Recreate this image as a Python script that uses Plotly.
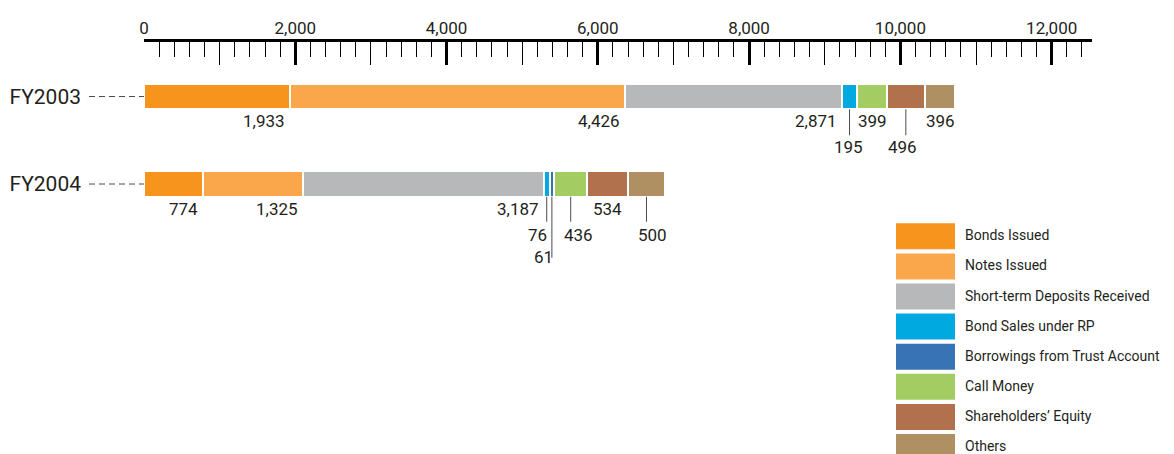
import plotly.graph_objects as go

# ---------------- data ----------------
years = ["FY2003", "FY2004"]
series_names = [
    "Bonds Issued",
    "Notes Issued",
    "Short-term Deposits Received",
    "Bond Sales under RP",
    "Borrowings from Trust Account",
    "Call Money",
    "Shareholders’ Equity",
    "Others",
]
bonds_issued = [1933, 774]
notes_issued = [4426, 1325]
short_term_deposits = [2871, 3187]
bond_sales_rp = [195, 76]
borrowings_trust = [None, 61]
call_money = [399, 436]
shareholders_equity = [496, 534]
others = [396, 500]
x_tick_values = [0, 2000, 4000, 6000, 8000, 10000, 12000]

series_values = [bonds_issued, notes_issued, short_term_deposits, bond_sales_rp,
                 borrowings_trust, call_money, shareholders_equity, others]

# ---------------- styles ----------------
colors = ["#F7941D", "#FAA74B", "#B7B8BA", "#00A9E0", "#3874B5",
          "#A3CD62", "#B0714C", "#AF9062"]
FONT = "Roboto, Liberation Sans, sans-serif"
TXT = "#231F20"
LEAD = "#4D4D4F"
W, H = 1174, 454
ML, MR, MT, MB = 144, 82, 42, 0
PW, PH = W - ML - MR, H - MT - MB
PX_PER_CAT = 87.5
BAR_PX = 25.5
HALF = BAR_PX / 2
y_top = -54.5 / PX_PER_CAT
y_bot = y_top + PH / PX_PER_CAT

# label placement per (year index, series index): style only
# ('right' | 'left' | 'center') or ('leader', leader_len, label_offset, xanchor, xshift)
placement = {
    (0, 0): "right", (0, 1): "right", (0, 2): "right",
    (0, 3): ("leader", 26, 38, "center", -1),
    (0, 5): "left",
    (0, 6): ("leader", 26, 38, "center", -3),
    (0, 7): "left",
    (1, 0): "right", (1, 1): "right", (1, 2): "right",
    (1, 3): ("leader", 25, 38, "center", -9),
    (1, 4): ("leader", 61, 60, "center", -8),
    (1, 5): ("leader", 25, 38, "center", 8),
    (1, 6): "center",
    (1, 7): ("leader", 25, 38, "center", 6),
}

fig = go.Figure()
for name, vals, col in zip(series_names, series_values, colors):
    fig.add_trace(go.Bar(
        y=years, x=vals, name=name, orientation="h",
        marker=dict(color=col, line=dict(color="white", width=2)),
        showlegend=False, hoverinfo="x+name",
    ))

annotations = []
shapes = []
for yi, yr in enumerate(years):
    cum = 0
    for si, vals in enumerate(series_values):
        v = vals[yi]
        if v is None:
            continue
        start, end = cum, cum + v
        cum = end
        mid = (start + end) / 2
        p = placement.get((yi, si))
        if p is None:
            continue
        text = f"{v:,}"
        if p == "right":
            annotations.append(dict(x=end, y=yr, text=text, xanchor="right", yanchor="middle",
                                    xshift=-3, yshift=-(HALF + 12), showarrow=False))
        elif p == "left":
            annotations.append(dict(x=start, y=yr, text=text, xanchor="left", yanchor="middle",
                                    xshift=-1, yshift=-(HALF + 12), showarrow=False))
        elif p == "center":
            annotations.append(dict(x=mid, y=yr, text=text, xanchor="center", yanchor="middle",
                                    xshift=0, yshift=-(HALF + 12), showarrow=False))
        else:
            _, llen, loff, xa, xs = p
            shapes.append(dict(type="line", xref="x", yref="y", ysizemode="pixel", yanchor=yi,
                               x0=mid, x1=mid, y0=-HALF, y1=-(HALF + llen),
                               line=dict(color=LEAD, width=1)))
            annotations.append(dict(x=mid, y=yr, text=text, xanchor=xa, yanchor="middle",
                                    xshift=xs, yshift=-(HALF + loff), showarrow=False))
    # dashed connector from category label to bar
    shapes.append(dict(type="line", xref="paper", yref="y", x0=-55 / PW, x1=0, y0=yi, y1=yi,
                       line=dict(color=LEAD, width=1, dash="6px,4px")))

for a in annotations:
    a["font"] = dict(family=FONT, size=17, color=TXT)

# manual legend with large swatches
for i, (name, col) in enumerate(zip(series_names, colors)):
    top = 223.3 + 30.1 * i
    bot = top + 26
    shapes.append(dict(type="rect", xref="paper", yref="paper",
                       x0=(896 - ML) / PW, x1=(955 - ML) / PW,
                       y0=(H - MB - bot) / PH, y1=(H - MB - top) / PH,
                       fillcolor=col, line=dict(width=0), layer="above"))
    annotations.append(dict(xref="paper", yref="paper", x=(963 - ML) / PW,
                            y=(H - MB - (top + 12)) / PH, text=name, xanchor="left",
                            yanchor="middle", showarrow=False,
                            font=dict(family=FONT, size=14, color=TXT)))

fig.update_layout(
    width=W, height=H, margin=dict(l=ML, r=MR, t=MT, b=MB, pad=0),
    paper_bgcolor="white", plot_bgcolor="white",
    barmode="stack", bargap=1 - BAR_PX / PX_PER_CAT,
    font=dict(family=FONT, color=TXT),
    xaxis=dict(
        side="top", range=[0, 12533], showgrid=False, zeroline=False,
        showline=True, linecolor="#000000", linewidth=2.5,
        ticks="inside", ticklen=23, tickwidth=2.5, tickcolor="#000000",
        tickvals=x_tick_values, tickformat=",d",
        tickfont=dict(family=FONT, size=17, color=TXT),
        ticklabelstandoff=-2,
        minor=dict(dtick=200, ticks="inside", ticklen=15, tickwidth=1, tickcolor="#000000",
                   showgrid=False),
        fixedrange=True,
    ),
    xaxis2=dict(
        overlaying="x", matches="x", side="top", range=[0, 12533], showgrid=False,
        zeroline=False, showline=False, showticklabels=False,
        ticks="inside", ticklen=23, tickwidth=1, tickcolor="#000000", dtick=1000, tick0=0,
    ),
    yaxis=dict(
        type="category", categoryarray=years, range=[y_bot, y_top],
        showgrid=False, zeroline=False, showline=False, ticks="",
        tickfont=dict(family=FONT, size=21, color=TXT),
        ticklabelstandoff=62, fixedrange=True,
    ),
    annotations=annotations, shapes=shapes,
)
# invisible trace to make sure the overlay axis is drawn
fig.add_trace(go.Scatter(x=[0], y=[years[0]], xaxis="x2", mode="markers",
                         marker=dict(opacity=0), showlegend=False, hoverinfo="skip"))

fig.write_html("out.html")
